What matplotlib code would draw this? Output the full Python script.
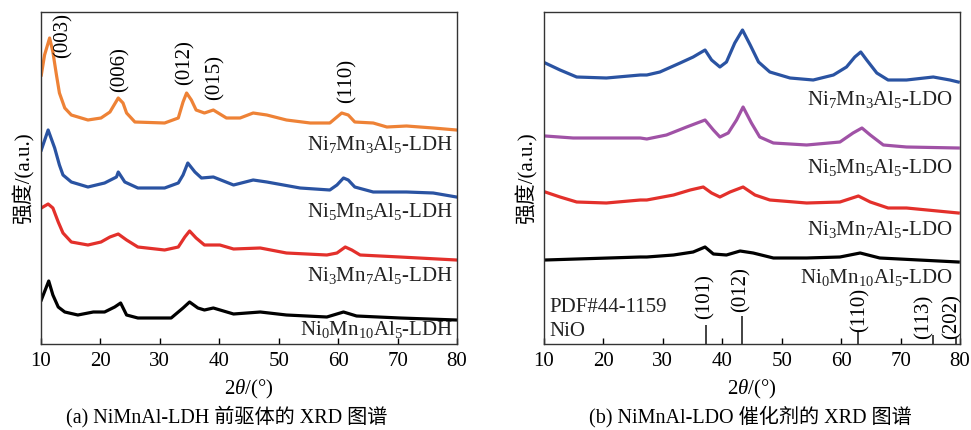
import matplotlib
matplotlib.use("Agg")
import matplotlib.pyplot as plt

plt.rcParams['font.family'] = ['Liberation Serif', 'Noto Sans CJK SC']
plt.rcParams['mathtext.fontset'] = 'custom'
plt.rcParams['mathtext.rm'] = 'Liberation Serif'
plt.rcParams['mathtext.it'] = 'Liberation Serif:italic'

FS = 15

# ---------------- Panel (a): LDH precursors ----------------
a_ni7_x = [10.05, 10.6, 11.45, 12.0, 12.6, 13.1, 14.0, 15.1, 17.9, 20.1, 21.6, 23.0, 23.8, 24.4, 25.8, 30.8,
           33.1, 33.9, 34.5, 35.3, 36.1, 37.5, 39.0, 41.2, 43.5, 45.7, 48.0, 51.3, 55.3, 58.6, 59.8, 60.6,
           61.7, 62.8, 65.9, 68.2, 71.5, 76.0, 79.9]
a_ni7_y = [269, 289, 306, 292, 269, 251, 236, 229, 224, 226, 232, 246, 241, 231, 222, 221,
           226, 242, 251, 244, 234, 231, 234, 226, 226, 231, 229, 224, 221, 221, 227, 231,
           229, 222, 221, 217, 218, 216, 214]

a_ni5_x = [10.05, 11.2, 12.3, 13.1, 13.7, 15.1, 17.9, 20.7, 22.7, 23.0, 24.1, 26.3, 30.8, 33.1, 33.9, 34.7,
           35.9, 37.0, 39.0, 42.4, 45.7, 48.0, 53.6, 58.6, 59.8, 60.9, 61.7, 62.8, 65.9, 71.5, 76.0, 79.9]
a_ni5_y = [194, 214, 196, 179, 169, 162, 157, 161, 167, 172, 162, 156, 156, 161, 169, 181,
           172, 166, 167, 159, 164, 162, 156, 154, 159, 166, 164, 157, 152, 152, 151, 147]

a_ni3_x = [10.05, 11.2, 12.0, 12.9, 13.7, 15.1, 17.9, 20.1, 21.6, 23.0, 24.4, 26.3, 30.8, 33.1, 34.2, 35.0,
           36.1, 37.5, 40.1, 42.4, 46.9, 51.3, 58.1, 59.8, 61.2, 62.3, 63.7, 70.4, 79.9]
a_ni3_y = [136, 140, 136, 122, 111, 102, 99, 102, 107, 110, 104, 97, 94, 97, 107, 113,
           106, 99, 99, 95, 96, 91, 89, 91, 97, 94, 89, 87, 84]

a_ni0_x = [10.05, 11.3, 12.0, 12.9, 14.0, 16.2, 18.8, 20.7, 22.4, 23.4, 24.4, 26.3, 31.9, 33.9, 35.0, 36.4,
           37.5, 39.0, 42.4, 46.9, 51.3, 58.1, 60.9, 63.1, 70.4, 79.9]
a_ni0_y = [44, 63, 49, 37, 32, 29, 32, 32, 37, 41, 29, 26, 26, 36, 42, 36,
           34, 36, 30, 32, 29, 27, 32, 28, 26, 24]

a_labels = [r'Ni$_\mathrm{7}$Mn$_\mathrm{3}$Al$_\mathrm{5}$-LDH',
            r'Ni$_\mathrm{5}$Mn$_\mathrm{5}$Al$_\mathrm{5}$-LDH',
            r'Ni$_\mathrm{3}$Mn$_\mathrm{7}$Al$_\mathrm{5}$-LDH',
            r'Ni$_\mathrm{0}$Mn$_\mathrm{10}$Al$_\mathrm{5}$-LDH']
a_label_y = [199, 132, 69, 14]
a_peaks = ['(003)', '(006)', '(012)', '(015)', '(110)']
a_peak_x = [13.7, 23.3, 34.2, 39.3, 61.5]
a_peak_y = [308, 274, 281, 266, 263]

# ---------------- Panel (b): LDO catalysts ----------------
b_ni7_x = [10.2, 12.7, 15.5, 20.5, 26.2, 27.3, 29.5, 32.9, 35.1, 37.1, 38.2, 39.6, 40.7, 42.1, 43.4, 44.7,
           46.1, 48.0, 51.4, 55.3, 58.7, 60.9, 62.3, 63.3, 64.3, 66.0, 67.9, 71.0, 75.5, 78.3, 79.7]
b_ni7_y = [281, 274, 267, 266, 269, 269, 272, 281, 287, 294, 284, 277, 282, 301, 314, 299,
           282, 272, 266, 264, 269, 277, 287, 292, 284, 271, 264, 264, 267, 264, 262]

b_ni5_x = [10.2, 14.9, 26.2, 27.3, 30.6, 34.0, 37.1, 38.5, 39.6, 41.0, 42.4, 43.5, 44.9, 46.3, 48.6, 54.2,
           59.8, 62.0, 63.5, 64.9, 67.1, 71.0, 79.7]
b_ni5_y = [208, 206, 206, 205, 209, 217, 224, 214, 207, 211, 224, 237, 221, 207, 201, 199,
           202, 211, 216, 209, 199, 197, 196]

b_ni3_x = [10.2, 12.7, 15.5, 20.5, 26.2, 27.3, 31.8, 34.6, 36.8, 38.2, 39.6, 41.3, 43.5, 45.5, 48.0, 54.2,
           59.8, 62.9, 64.9, 67.9, 71.0, 79.7]
b_ni3_y = [152, 147, 142, 141, 144, 144, 149, 154, 157, 151, 147, 152, 157, 149, 144, 141,
           142, 148, 142, 136, 136, 131]

b_ni0_x = [10.2, 26.2, 27.3, 31.8, 35.1, 37.1, 38.5, 40.7, 43.0, 45.2, 48.6, 54.2, 59.8, 63.2, 66.5, 79.7]
b_ni0_y = [84, 87, 87, 89, 92, 97, 90, 89, 93, 91, 86, 86, 87, 91, 86, 82]

b_labels = [r'Ni$_\mathrm{7}$Mn$_\mathrm{3}$Al$_\mathrm{5}$-LDO',
            r'Ni$_\mathrm{5}$Mn$_\mathrm{5}$Al$_\mathrm{5}$-LDO',
            r'Ni$_\mathrm{3}$Mn$_\mathrm{7}$Al$_\mathrm{5}$-LDO',
            r'Ni$_\mathrm{0}$Mn$_\mathrm{10}$Al$_\mathrm{5}$-LDO']
b_label_y = [244, 177, 114, 67]

nio_pos = [37.25, 43.28, 62.88, 75.42, 79.41]
nio_int = [19, 28, 12, 9, 6]
nio_hkl = ['(101)', '(012)', '(110)', '(113)', '(202)']
nio_lab_x = [37.1, 43.1, 63.1, 74.0, 78.6]
nio_lab_y = [47, 54, 34, 27, 27]

colors_a = ['#EE8236', '#2A53A2', '#E3302B', '#000000']
colors_b = ['#2A53A2', '#A052A6', '#E3302B', '#000000']

fig = plt.figure(figsize=(9.71, 4.30), dpi=100)
axA = fig.add_axes([41/971, 86/430, 416/971, 332/430])
axB = fig.add_axes([544/971, 86/430, 416/971, 332/430])

for ax in (axA, axB):
    ax.set_xlim(10, 80)
    ax.set_ylim(0, 332)
    ax.set_yticks([])
    ax.set_xticks(range(10, 81, 10))
    ax.tick_params(axis='x', direction='in', length=4, width=1, labelsize=FS, pad=6)
    for s in ax.spines.values():
        s.set_linewidth(1.0)
        s.set_color('#333333')
    ax.set_xlabel(r'2$\mathit{\theta}$/(°)', fontsize=FS, labelpad=5)
    ax.set_ylabel('强度/(a.u.)', fontsize=FS, labelpad=5)

lw = 2.3
for xs, ys, c in zip([a_ni7_x, a_ni5_x, a_ni3_x, a_ni0_x], [a_ni7_y, a_ni5_y, a_ni3_y, a_ni0_y], colors_a):
    axA.plot(xs, ys, color=c, lw=lw, solid_joinstyle='round')
for lab, y in zip(a_labels, a_label_y):
    axA.text(79.3, y, lab, ha='right', va='center', fontsize=FS, color='#222222')
for lab, x, y in zip(a_peaks, a_peak_x, a_peak_y):
    axA.text(x, y, lab, rotation=90, ha='center', va='center', fontsize=FS, clip_on=False)

for xs, ys, c in zip([b_ni7_x, b_ni5_x, b_ni3_x, b_ni0_x], [b_ni7_y, b_ni5_y, b_ni3_y, b_ni0_y], colors_b):
    axB.plot(xs, ys, color=c, lw=lw, solid_joinstyle='round')
for lab, y in zip(b_labels, b_label_y):
    axB.text(78.8, y, lab, ha='right', va='center', fontsize=FS, color='#222222')
axB.vlines(nio_pos, 0, nio_int, color='#222222', lw=1.2)
for lab, x, y in zip(nio_hkl, nio_lab_x, nio_lab_y):
    axB.text(x, y, lab, rotation=90, ha='center', va='center', fontsize=FS)
axB.text(10.84, 37, 'PDF#44-1159', ha='left', va='center', fontsize=FS, color='#222222')
axB.text(10.84, 12, 'NiO', ha='left', va='center', fontsize=FS, color='#222222')

fig.text(227/971, 1 - 417/430, '(a) NiMnAl-LDH 前驱体的 XRD 图谱', ha='center', va='center', fontsize=14.5)
fig.text(750/971, 1 - 417/430, '(b) NiMnAl-LDO 催化剂的 XRD 图谱', ha='center', va='center', fontsize=14.5)

fig.savefig('out.png', dpi=100)
